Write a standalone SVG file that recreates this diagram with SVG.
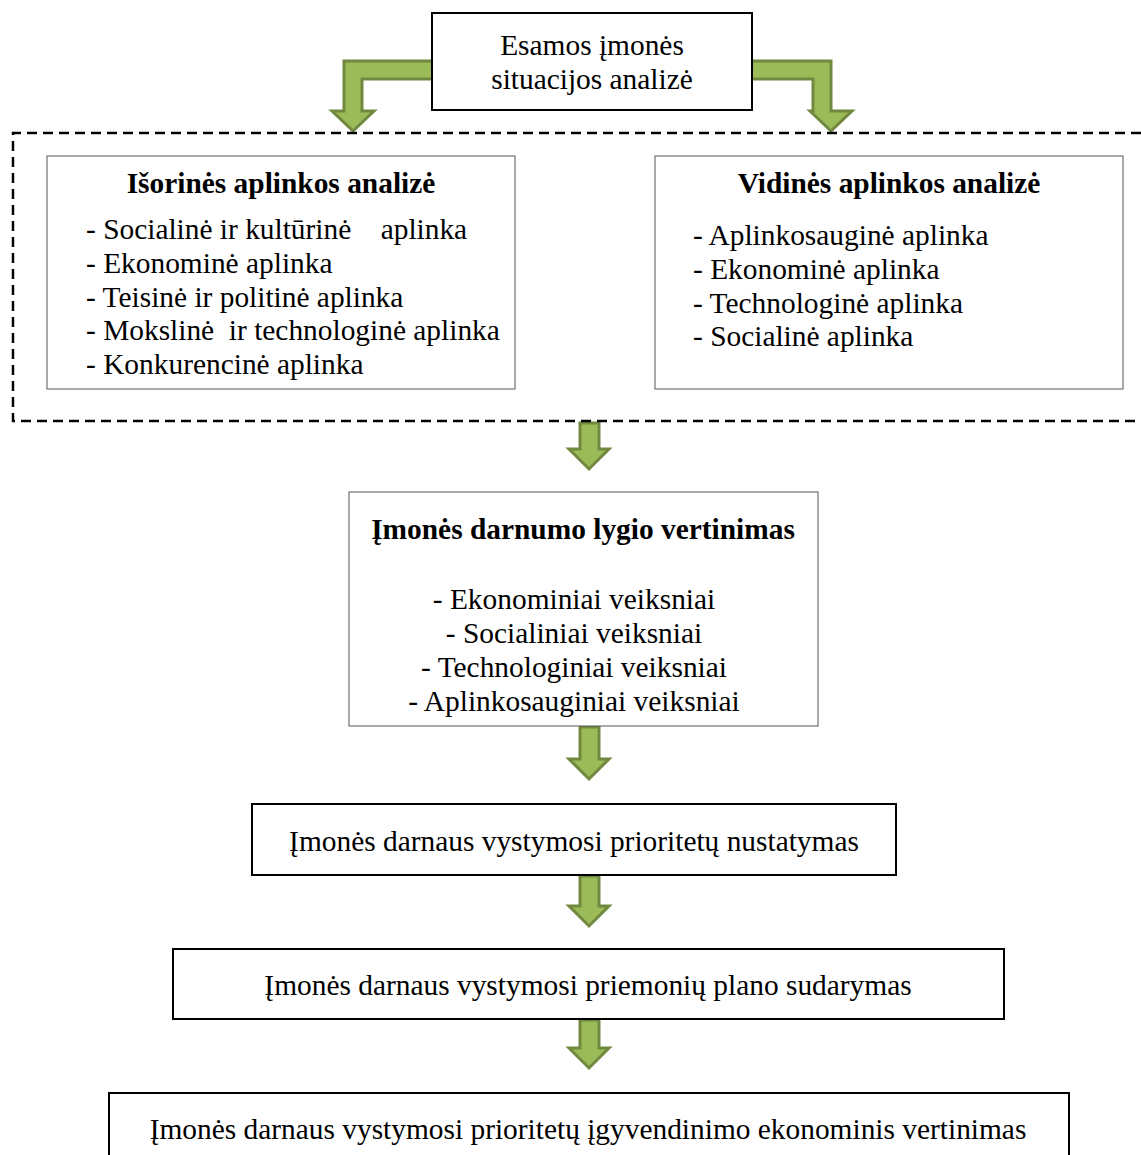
<svg xmlns="http://www.w3.org/2000/svg" width="1141" height="1155" viewBox="0 0 1141 1155">
<style>
text{font-family:"Liberation Serif","Times New Roman",serif;font-size:29.4px;fill:#000;white-space:pre}
.b{font-weight:bold}
.c{text-anchor:middle}
.box{fill:#fff;stroke:#000;stroke-width:2}
.thin{fill:#fff;stroke:#555;stroke-width:1}
.arr{fill:#9BBB59;stroke:#71893F;stroke-width:3;stroke-linejoin:miter}
</style>
<rect width="1141" height="1155" fill="#fff"/>
<g id="connectors">
<path class="arr" d="M433,61 L344,61 L344,111 L332,111 L353,131 L374,111 L362,111 L362,79 L433,79 Z"/>
<path class="arr" d="M751,61 L831,61 L831,111 L852,111 L831,131 L810,111 L813,111 L813,79 L751,79 Z"/>
<path class="arr" d="M580,423 L599,423 L599,449 L609,449 L589,469 L569,449 L580,449 Z"/>
<path class="arr" d="M580,727 L599,727 L599,759 L609,759 L589,779 L569,759 L580,759 Z"/>
<path class="arr" d="M580,876 L599,876 L599,906 L609,906 L589,926 L569,906 L580,906 Z"/>
<path class="arr" d="M580,1020 L599,1020 L599,1048 L609,1048 L589,1068 L569,1048 L580,1048 Z"/>
</g>
<g id="group-dashed">
<path d="M1141,133 L13,133 L13,421 L1141,421" fill="none" stroke="#000" stroke-width="2.5" stroke-dasharray="10,6"/>
</g>
<g id="node-top">
<rect class="box" x="432" y="13" width="320" height="97"/>
<text class="c" x="592" y="55">Esamos įmonės</text>
<text class="c" x="592" y="89">situacijos analizė</text>
</g>
<g id="node-external">
<rect class="thin" x="47" y="156" width="468" height="233"/>
<text class="c b" x="281" y="193">Išorinės aplinkos analizė</text>
<text x="86" y="239">- Socialinė ir kultūrinė    aplinka</text>
<text x="86" y="273">- Ekonominė aplinka</text>
<text x="86" y="307">- Teisinė ir politinė aplinka</text>
<text x="86" y="340">- Mokslinė  ir technologinė aplinka</text>
<text x="86" y="374">- Konkurencinė aplinka</text>
</g>
<g id="node-internal">
<rect class="thin" x="655" y="156" width="468" height="233"/>
<text class="c b" x="889" y="193">Vidinės aplinkos analizė</text>
<text x="693" y="245">- Aplinkosauginė aplinka</text>
<text x="693" y="279">- Ekonominė aplinka</text>
<text x="693" y="313">- Technologinė aplinka</text>
<text x="693" y="346">- Socialinė aplinka</text>
</g>
<g id="node-sustainability">
<rect class="thin" x="349" y="492" width="469" height="234"/>
<text class="c b" x="583" y="539">Įmonės darnumo lygio vertinimas</text>
<text class="c" x="574" y="609">- Ekonominiai veiksniai</text>
<text class="c" x="574" y="643">- Socialiniai veiksniai</text>
<text class="c" x="574" y="677">- Technologiniai veiksniai</text>
<text class="c" x="574" y="711">- Aplinkosauginiai veiksniai</text>
</g>
<g id="node-priorities">
<rect class="box" x="252" y="804" width="644" height="71"/>
<text class="c" x="574" y="851">Įmonės darnaus vystymosi prioritetų nustatymas</text>
</g>
<g id="node-plan">
<rect class="box" x="173" y="949" width="831" height="70"/>
<text class="c" x="588" y="995">Įmonės darnaus vystymosi priemonių plano sudarymas</text>
</g>
<g id="node-evaluation">
<rect class="box" x="109" y="1093" width="960" height="80"/>
<text class="c" x="588" y="1139">Įmonės darnaus vystymosi prioritetų įgyvendinimo ekonominis vertinimas</text>
</g>
</svg>
